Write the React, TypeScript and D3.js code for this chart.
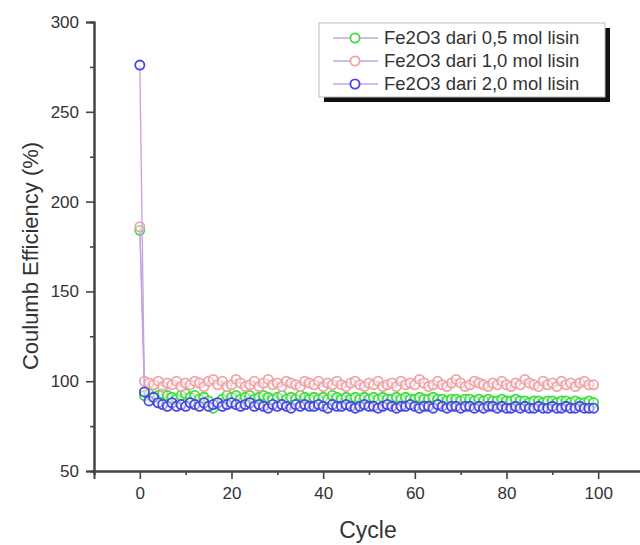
import React, { useEffect, useRef } from 'react';
import * as d3 from 'd3';

// cycle numbers 0..99
const cycles = d3.range(0, 100);

// Fe2O3 dari 0,5 mol lisin
const eff05 = [
  184, 92, 93, 91, 92, 93, 92, 91, 90, 92, 93, 91, 92, 90, 91, 89, 85, 88, 90, 92,
  91, 92, 90, 91, 92, 90, 91, 92, 91, 90, 91, 92, 90, 91, 90, 92, 91, 90, 91, 90,
  91, 90, 92, 91, 90, 91, 90, 91, 90, 91, 90, 91, 90, 91, 90, 90, 91, 90, 91, 90,
  90, 91, 90, 90, 91, 90, 90, 89, 90, 90, 89, 90, 90, 89, 90, 89, 90, 89, 89, 90,
  89, 89, 90, 89, 89, 88, 89, 89, 88, 89, 89, 88, 89, 89, 88, 89, 88, 88, 89, 88,
];

// Fe2O3 dari 1,0 mol lisin
const eff10 = [
  186, 100, 99, 98, 100, 97, 99, 98, 100, 97, 99, 98, 100, 99, 97, 100, 101, 98, 100, 97,
  98, 101, 99, 97, 98, 100, 97, 99, 101, 98, 99, 97, 100, 99, 98, 97, 100, 99, 98, 100,
  97, 99, 98, 100, 98, 97, 99, 100, 98, 97, 99, 98, 100, 97, 98, 99, 97, 100, 98, 99,
  98, 101, 99, 97, 98, 100, 98, 97, 99, 101, 99, 97, 98, 100, 99, 98, 97, 99, 98, 100,
  98, 97, 99, 98, 101, 99, 98, 97, 100, 98, 99, 97, 100, 98, 99, 97, 99, 100, 98, 98,
];

// Fe2O3 dari 2,0 mol lisin
const eff20 = [
  276, 94, 89, 91, 88, 87, 86, 88, 86, 87, 86, 88, 87, 86, 88, 86, 87, 88, 86, 87,
  88, 87, 86, 87, 88, 86, 87, 86, 85, 87, 86, 87, 86, 85, 87, 86, 87, 86, 86, 87,
  86, 85, 87, 86, 86, 87, 86, 85, 86, 87, 86, 86, 85, 86, 87, 86, 85, 86, 86, 87,
  86, 85, 86, 86, 85, 87, 86, 85, 86, 86, 85, 86, 86, 85, 86, 85, 86, 86, 85, 86,
  85, 85, 86, 85, 86, 85, 85, 86, 85, 85, 86, 85, 85, 86, 85, 85, 86, 85, 85, 85,
];

const seriesNames = ['Fe2O3 dari 0,5 mol lisin', 'Fe2O3 dari 1,0 mol lisin', 'Fe2O3 dari 2,0 mol lisin'];
const seriesValues = [eff05, eff10, eff20];
const markerColors = ['#3ede3e', '#f0a4a4', '#4646e6'];
const lineColor = '#c8a2e0';

const xTicks = [0, 20, 40, 60, 80, 100];
const xMinor = [-10, 10, 30, 50, 70, 90, 110];
const yTicks = [50, 100, 150, 200, 250, 300];
const yMinor = [75, 125, 175, 225, 275];

export default function App() {
  const ref = useRef<SVGSVGElement>(null);

  useEffect(() => {
    const W = 640, H = 545;
    const svg = d3.select(ref.current).attr('width', W).attr('height', H);
    svg.selectAll('*').remove();

    const font = 'Liberation Sans, Arial, sans-serif';
    const axisCol = '#444';
    const txtCol = '#333';

    const x = d3.scaleLinear().domain([-10, 110]).range([94, 644]);
    const y = d3.scaleLinear().domain([50, 300]).range([471, 22]);

    svg.append('rect').attr('width', W).attr('height', H).attr('fill', '#fff');

    // data lines + markers
    seriesValues.forEach((vals, si) => {
      const pts = cycles.map((c, i) => [c, vals[i]] as [number, number]);
      svg.append('path')
        .datum(pts)
        .attr('fill', 'none')
        .attr('stroke', lineColor)
        .attr('stroke-width', 1.3)
        .attr('d', d3.line<[number, number]>().x(d => x(d[0])).y(d => y(d[1])));
      svg.append('g').selectAll('circle')
        .data(pts)
        .enter().append('circle')
        .attr('cx', d => x(d[0]))
        .attr('cy', d => y(d[1]))
        .attr('r', 4.6)
        .attr('fill', '#fff')
        .attr('fill-opacity', 0.45)
        .attr('stroke', markerColors[si])
        .attr('stroke-width', 1.8);
    });

    // axes
    const xa = svg.append('g').attr('transform', `translate(0,${y(50)})`);
    xa.call(d3.axisBottom(x).tickValues(xTicks).tickSize(8).tickPadding(8).tickFormat(d3.format('d')));
    xa.append('g').call(d3.axisBottom(x).tickValues(xMinor).tickSize(4).tickFormat(() => ''));
    xa.selectAll('.domain').attr('stroke', axisCol).attr('stroke-width', 2);
    xa.selectAll('line').attr('stroke', axisCol).attr('stroke-width', 1.6);
    xa.selectAll('text').attr('font-family', font).attr('font-size', 17).attr('fill', txtCol);

    const ya = svg.append('g').attr('transform', `translate(${x(-10)},0)`);
    ya.call(d3.axisLeft(y).tickValues(yTicks).tickSize(8).tickPadding(7).tickFormat(d3.format('d')));
    ya.append('g').call(d3.axisLeft(y).tickValues(yMinor).tickSize(4).tickFormat(() => ''));
    ya.selectAll('.domain').attr('stroke', axisCol).attr('stroke-width', 2);
    ya.selectAll('line').attr('stroke', axisCol).attr('stroke-width', 1.6);
    ya.selectAll('text').attr('font-family', font).attr('font-size', 17).attr('fill', txtCol);

    // axis titles
    svg.append('text')
      .attr('x', 368).attr('y', 538)
      .attr('text-anchor', 'middle')
      .attr('font-family', font).attr('font-size', 23).attr('fill', txtCol)
      .text('Cycle');
    svg.append('text')
      .attr('transform', `translate(38,256) rotate(-90)`)
      .attr('text-anchor', 'middle')
      .attr('font-family', font).attr('font-size', 22).attr('fill', txtCol)
      .text('Coulumb Efficiency (%)');

    // legend
    const lg = svg.append('g');
    lg.append('rect').attr('x', 324).attr('y', 28).attr('width', 286).attr('height', 74).attr('fill', '#111');
    lg.append('rect').attr('x', 319).attr('y', 23).attr('width', 286).attr('height', 74)
      .attr('fill', '#fff').attr('stroke', '#bbb').attr('stroke-width', 1);
    seriesNames.forEach((name, i) => {
      const ry = 38 + i * 23;
      lg.append('line').attr('x1', 333).attr('x2', 378).attr('y1', ry).attr('y2', ry)
        .attr('stroke', lineColor).attr('stroke-width', 1.3);
      lg.append('circle').attr('cx', 355).attr('cy', ry).attr('r', 4.6)
        .attr('fill', '#fff').attr('stroke', markerColors[i]).attr('stroke-width', 1.8);
      lg.append('text').attr('x', 384).attr('y', ry).attr('dy', '0.35em')
        .attr('font-family', font).attr('font-size', 18.5).attr('fill', txtCol)
        .text(name);
    });
  }, []);

  return <svg ref={ref} style={{ position: 'absolute', left: 0, top: 0 }}></svg>;
}
